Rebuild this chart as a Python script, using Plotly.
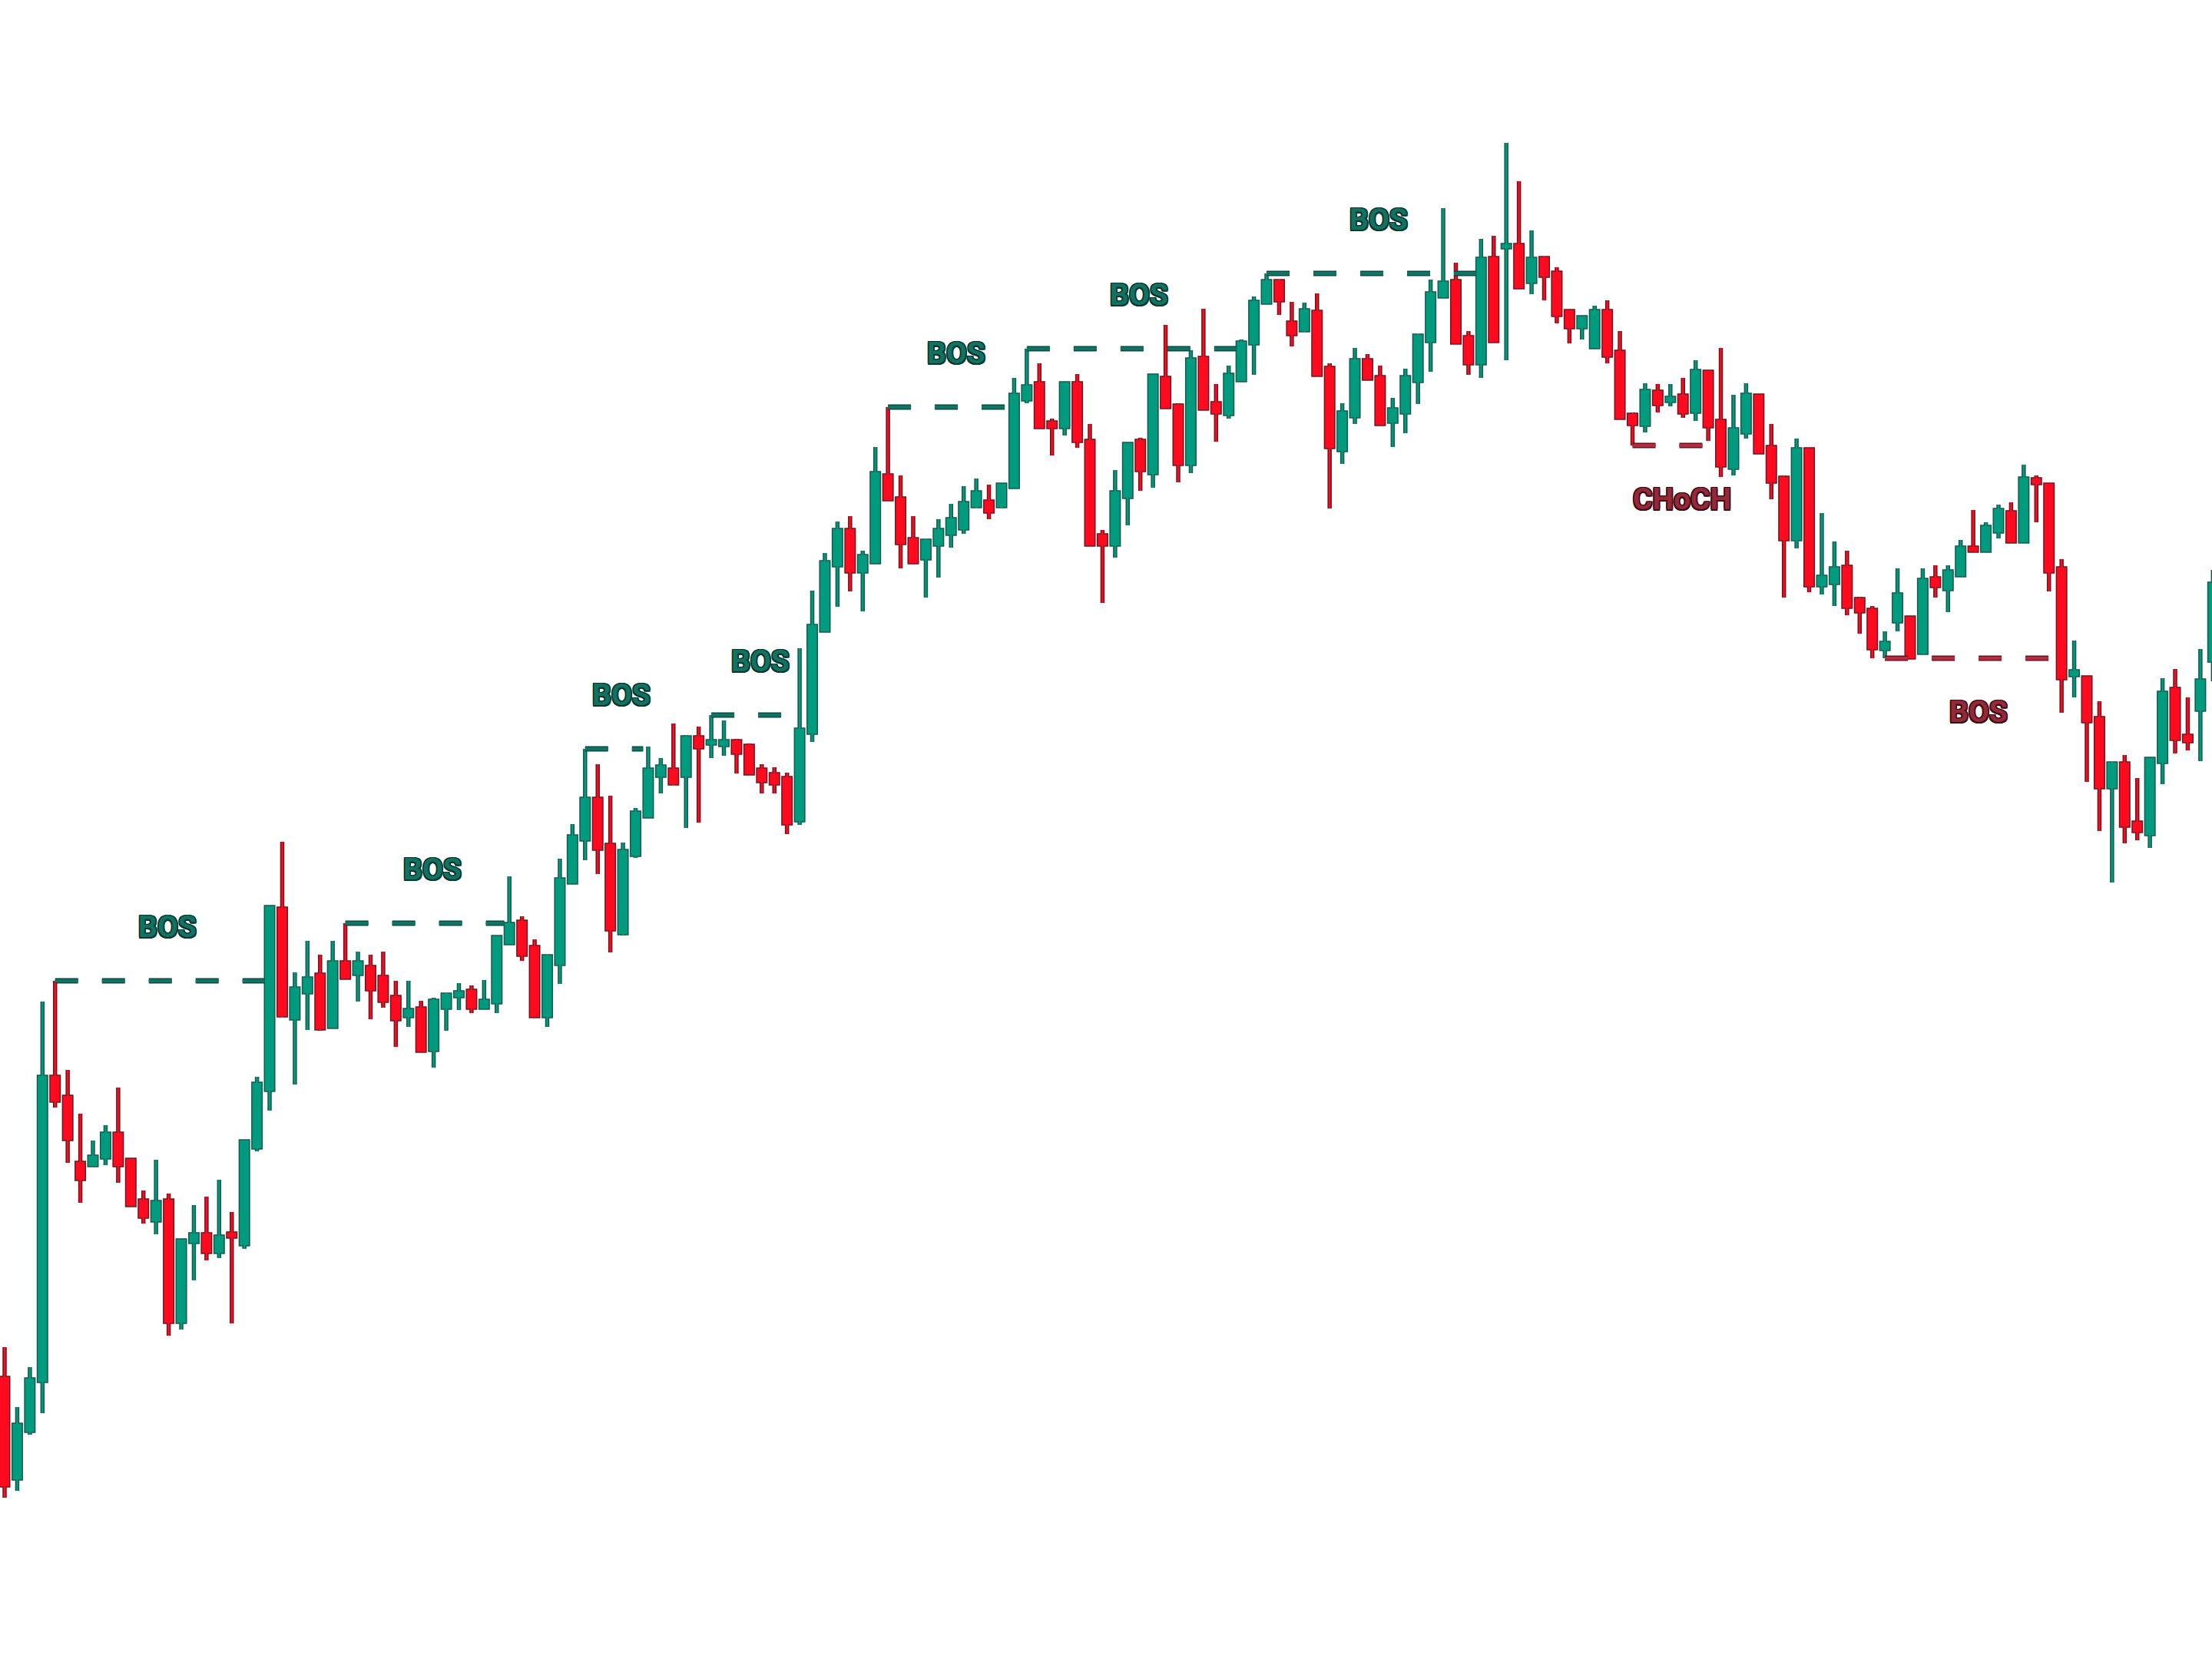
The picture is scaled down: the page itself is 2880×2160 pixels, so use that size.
import plotly.graph_objects as go

# ---------------- candle data (price units) ----------------
open_ = [366, 235, 297, 362, 758, 732, 646, 643, 653, 684,
         650, 597, 571, 597, 439, 543, 553, 530, 554, 540,
         666, 741, 977, 834, 868, 891, 823, 907, 892, 901,
         888, 862, 837, 847, 793, 848, 863, 870, 848, 855,
         932, 960, 927, 837, 905, 1011, 1067, 1120, 1060, 945,
         1047, 1097, 1150, 1158, 1150, 1200, 1192, 1190, 1195, 1189,
         1158, 1152, 1147, 1092, 1206, 1339, 1424, 1470, 1416, 1428,
         1541, 1511, 1458, 1433, 1451, 1465, 1472, 1501, 1507, 1501,
         1526, 1640, 1661, 1610, 1604, 1661, 1586, 1463, 1451, 1513,
         1586, 1544, 1668, 1632, 1556, 1694, 1635, 1621, 1665, 1713,
         1766, 1794, 1740, 1730, 1754, 1681, 1574, 1618, 1691, 1669,
         1611, 1623, 1664, 1716, 1774, 1794, 1721, 1687, 1824, 1838,
         1841, 1793, 1824, 1805, 1755, 1734, 1708, 1755, 1702, 1620,
         1607, 1650, 1638, 1645, 1624, 1676, 1612, 1551, 1597, 1645,
         1578, 1538, 1458, 1575, 1398, 1401, 1422, 1380, 1366, 1315,
         1351, 1356, 1310, 1407, 1393, 1411, 1447, 1443, 1468, 1493,
         1455, 1536, 1529, 1420, 1281, 1278, 1225, 1135, 1166, 1089,
         1074, 1168, 1263, 1202, 1236, 1300]

high = [406, 328, 380, 856, 883, 767, 710, 675, 695, 744,
        651, 610, 650, 606, 546, 591, 602, 624, 582, 675,
        758, 980, 1064, 894, 935, 917, 935, 958, 921, 917,
        921, 883, 883, 857, 861, 867, 880, 877, 884, 941,
        1019, 967, 937, 917, 1042, 1087, 1185, 1165, 1124, 1063,
        1108, 1188, 1173, 1218, 1203, 1214, 1229, 1222, 1198, 1192,
        1165, 1161, 1154, 1316, 1391, 1440, 1481, 1488, 1443, 1578,
        1630, 1541, 1488, 1458, 1484, 1504, 1527, 1537, 1529, 1530,
        1668, 1706, 1687, 1615, 1661, 1673, 1608, 1470, 1548, 1582,
        1590, 1672, 1737, 1635, 1704, 1758, 1660, 1684, 1718, 1774,
        1804, 1796, 1767, 1766, 1778, 1687, 1635, 1707, 1699, 1684,
        1642, 1680, 1725, 1796, 1889, 1818, 1729, 1849, 1853, 1974,
        1924, 1860, 1826, 1812, 1755, 1747, 1762, 1769, 1729, 1623,
        1661, 1660, 1660, 1668, 1691, 1677, 1707, 1646, 1661, 1646,
        1608, 1541, 1589, 1575, 1492, 1455, 1443, 1383, 1371, 1338,
        1420, 1357, 1420, 1424, 1424, 1457, 1496, 1480, 1503, 1506,
        1555, 1541, 1529, 1432, 1326, 1278, 1247, 1168, 1177, 1147,
        1173, 1277, 1289, 1252, 1315, 1418]

low = [210, 219, 292, 320, 718, 646, 594, 643, 643, 620,
       590, 567, 553, 421, 429, 493, 519, 522, 437, 534,
       661, 714, 836, 748, 819, 818, 822, 886, 856, 833,
       848, 797, 823, 791, 770, 818, 845, 841, 847, 841,
       932, 909, 837, 823, 879, 1011, 1040, 1022, 920, 942,
       1043, 1097, 1127, 1138, 1082, 1089, 1173, 1176, 1153, 1153,
       1127, 1127, 1074, 1086, 1194, 1339, 1370, 1390, 1364, 1428,
       1510, 1420, 1428, 1382, 1408, 1447, 1465, 1499, 1484, 1499,
       1525, 1635, 1604, 1567, 1593, 1577, 1451, 1375, 1434, 1476,
       1521, 1525, 1630, 1532, 1544, 1628, 1585, 1615, 1665, 1672,
       1766, 1750, 1709, 1728, 1672, 1498, 1556, 1608, 1667, 1608,
       1578, 1596, 1634, 1676, 1774, 1713, 1672, 1668, 1716, 1691,
       1786, 1777, 1769, 1739, 1713, 1718, 1708, 1687, 1616, 1580,
       1597, 1623, 1631, 1616, 1612, 1586, 1539, 1541, 1589, 1570,
       1510, 1382, 1446, 1389, 1386, 1371, 1359, 1335, 1303, 1303,
       1338, 1304, 1310, 1382, 1363, 1411, 1443, 1443, 1459, 1455,
       1455, 1480, 1390, 1232, 1252, 1142, 1078, 1011, 1062, 1066,
       1056, 1139, 1179, 1183, 1169, 1273]

close = [226, 305, 364, 758, 727, 677, 625, 654, 684, 643,
         591, 576, 595, 439, 545, 553, 530, 550, 550, 674,
         749, 979, 838, 873, 886, 821, 907, 887, 907, 872,
         857, 833, 845, 792, 857, 865, 868, 848, 857, 940,
         957, 917, 837, 915, 1015, 1071, 1120, 1055, 950, 1052,
         1102, 1158, 1162, 1140, 1200, 1187, 1195, 1195, 1180, 1153,
         1143, 1140, 1088, 1210, 1345, 1428, 1470, 1416, 1436, 1544,
         1510, 1453, 1428, 1456, 1470, 1484, 1505, 1519, 1494, 1529,
         1646, 1657, 1604, 1604, 1661, 1586, 1451, 1451, 1519, 1582,
         1548, 1671, 1630, 1556, 1692, 1628, 1623, 1672, 1714, 1767,
         1794, 1769, 1725, 1756, 1672, 1578, 1623, 1691, 1667, 1608,
         1627, 1669, 1723, 1778, 1792, 1714, 1687, 1823, 1716, 1841,
         1786, 1823, 1801, 1750, 1734, 1747, 1755, 1697, 1616, 1608,
         1651, 1634, 1642, 1623, 1677, 1605, 1554, 1601, 1646, 1571,
         1533, 1458, 1575, 1398, 1409, 1420, 1370, 1364, 1316, 1323,
         1386, 1304, 1405, 1397, 1416, 1447, 1443, 1474, 1496, 1455,
         1537, 1531, 1416, 1277, 1286, 1221, 1135, 1166, 1085, 1078,
         1172, 1258, 1198, 1195, 1274, 1400]

idx = list(range(len(open_)))

# ---------------- market structure events ----------------
swing_idx = [4, 27, 46, 56, 70, 81, 100, 129, 149]
break_idx = [21, 40, 51, 63, 80, 98, 117, 136, 163]
direction = ["up", "up", "up", "up", "up", "up", "up", "down", "down"]
labels = ["BOS", "BOS", "BOS", "BOS", "BOS", "BOS", "BOS", "CHoCH", "BOS"]

# ---------------- styles ----------------
G_FILL, G_EDGE = "#009B7E", "#18594E"
R_FILL, R_EDGE = "#FF0A1E", "#6E1721"
G_LINE, G_LINE_EDGE = "#0F7463", "#0A4A40"
R_LINE, R_LINE_EDGE = "#B52D3D", "#5E1520"
G_TEXT, G_TEXT_EDGE = "#117262", "#06352E"
R_TEXT, R_TEXT_EDGE = "#962838", "#3A0C14"

fig = go.Figure()

# outline pass
fig.add_trace(go.Candlestick(
    x=idx, open=open_, high=high, low=low, close=close,
    increasing=dict(line=dict(color=G_EDGE, width=5.5), fillcolor=G_FILL),
    decreasing=dict(line=dict(color=R_EDGE, width=5.5), fillcolor=R_FILL),
    whiskerwidth=0, hoverinfo="skip", showlegend=False))
# colour pass
fig.add_trace(go.Candlestick(
    x=idx, open=open_, high=high, low=low, close=close,
    increasing=dict(line=dict(color=G_FILL, width=2.5), fillcolor=G_FILL),
    decreasing=dict(line=dict(color=R_FILL, width=2.5), fillcolor=R_FILL),
    whiskerwidth=0, hoverinfo="skip", showlegend=False))

annotations = []
for s, b, d, lab in zip(swing_idx, break_idx, direction, labels):
    level = high[s] if d == "up" else low[s]
    x_end = b - 0.4
    core, edge = (G_LINE, G_LINE_EDGE) if d == "up" else (R_LINE, R_LINE_EDGE)
    for col, w in ((edge, 7), (core, 4)):
        fig.add_trace(go.Scatter(
            x=[s, x_end], y=[level, level], mode="lines",
            line=dict(color=col, width=w, dash="30px,31px"),
            hoverinfo="skip", showlegend=False))
    tcol, tedge = (G_TEXT, G_TEXT_EDGE) if d == "up" else (R_TEXT, R_TEXT_EDGE)
    sh = ", ".join(f"{dx}px {dy}px 0 {tedge}" for dx, dy in
                   ((1.5, 1.5), (-1.5, -1.5), (1.5, -1.5), (-1.5, 1.5),
                    (0, 1.5), (0, -1.5), (1.5, 0), (-1.5, 0)))
    annotations.append(dict(
        x=(s + x_end) / 2 + 0.6,
        y=level + 70 if d == "up" else level - 70,
        xref="x", yref="y", text=lab, showarrow=False,
        xanchor="center", yanchor="middle",
        font=dict(family="Liberation Sans Narrow, Roboto, sans-serif",
                  size=39, color=tcol, weight=700, shadow=sh)))

fig.update_layout(
    width=2880, height=2160,
    margin=dict(l=0, r=0, t=0, b=0),
    paper_bgcolor="white", plot_bgcolor="white",
    showlegend=False, hovermode=False,
    boxgap=0.42, boxgroupgap=0,
    annotations=annotations,
    xaxis=dict(visible=False, range=[-0.365, 174.92], rangeslider=dict(visible=False)),
    yaxis=dict(visible=False, range=[0, 2160]),
)

fig.write_html("out.html", config={"displayModeBar": False},
               post_script="document.body.style.margin='0';document.body.style.overflow='hidden';")
